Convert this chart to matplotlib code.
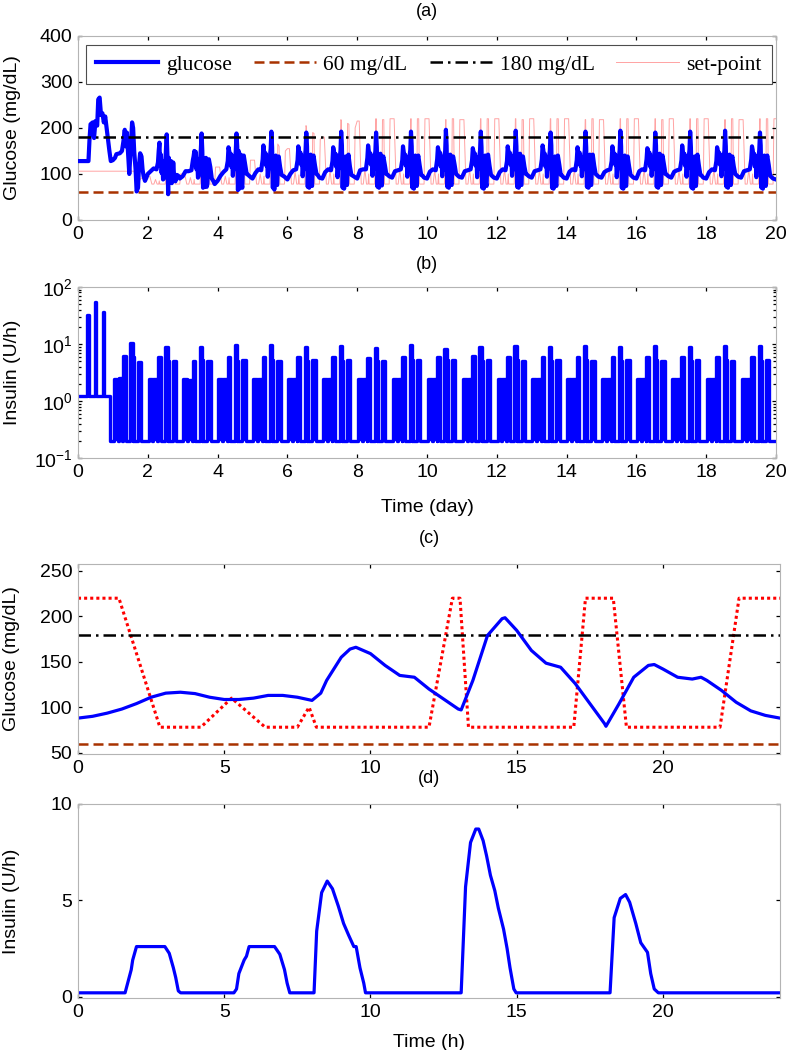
import matplotlib
matplotlib.use("Agg")
import matplotlib.pyplot as plt

plt.rcParams["font.family"] = ["Liberation Sans", "DejaVu Sans"]
plt.rcParams["mathtext.default"] = "regular"

# ── (a) glucose over 20 days ─────────────────────────────────────────────────
# first two days (transient), time in days
A0_T = [0.00, 0.30, 0.33, 0.36, 0.42, 0.46, 0.50, 0.55, 0.58, 0.62, 0.66, 0.70,
        0.74, 0.78, 0.82, 0.86, 0.90, 0.94, 1.00, 1.06, 1.10, 1.20, 1.26, 1.30,
        1.34, 1.37, 1.40, 1.44, 1.47, 1.50, 1.55, 1.58, 1.61, 1.65, 1.68, 1.72,
        1.75, 1.78, 1.82, 1.85, 1.88, 1.92, 1.96]
A0_G = [128, 128, 175, 208, 212, 178, 215, 205, 262, 266, 228, 232,
        212, 225, 200, 175, 150, 128, 130, 135, 143, 145, 150, 170,
        196, 160, 190, 140, 100, 140, 212, 200, 150, 110, 62, 70,
        120, 145, 138, 110, 95, 85, 92]

# days 2..19, samples at these hours of each day
A_HOURS = [0, 2, 4, 6, 7, 7.5, 8, 8.5, 9, 9.5, 10, 10.5, 11, 11.5, 12, 12.5, 13,
           13.5, 14, 14.5, 15, 15.5, 16, 16.5, 17, 17.5, 18, 19, 20, 21, 22]
A_DAYS = list(range(2, 20))
A_GLUCOSE = [
    [100, 106, 112, 110, 125, 150, 168, 118, 142, 102, 128, 88, 90, 110, 122, 152, 186, 140, 56, 135, 84, 120, 128, 80, 92, 125, 100, 84, 98, 96, 90],
    [95, 106, 106, 108, 130, 138, 150, 120, 148, 110, 132, 92, 96, 115, 130, 155, 188, 150, 70, 128, 72, 120, 135, 72, 78, 128, 132, 115, 90, 85, 78],
    [85, 96, 104, 110, 128, 158, 150, 130, 144, 115, 140, 96, 122, 110, 130, 150, 188, 160, 65, 150, 68, 128, 142, 78, 70, 132, 140, 120, 100, 98, 95],
    [90, 102, 110, 108, 132, 162, 148, 125, 145, 118, 136, 94, 115, 112, 138, 155, 192, 158, 70, 125, 66, 122, 140, 80, 76, 130, 138, 115, 98, 96, 94],
    [88, 100, 108, 110, 130, 160, 152, 128, 146, 120, 138, 95, 118, 110, 135, 152, 190, 160, 72, 122, 70, 125, 142, 78, 74, 134, 140, 118, 100, 97, 92],
    [90, 104, 110, 108, 128, 158, 150, 124, 144, 116, 140, 93, 120, 112, 136, 150, 192, 162, 70, 120, 68, 124, 138, 80, 76, 130, 142, 116, 98, 96, 94],
    [90, 108, 110, 110, 135, 162, 150, 125, 145, 120, 138, 96, 118, 110, 137, 150, 190, 158, 72, 125, 70, 126, 144, 78, 75, 132, 138, 120, 100, 98, 95],
    [92, 106, 108, 110, 130, 160, 148, 126, 142, 118, 136, 94, 120, 112, 138, 152, 192, 160, 70, 122, 68, 124, 140, 80, 74, 130, 140, 118, 98, 96, 92],
    [90, 105, 110, 108, 132, 158, 150, 128, 146, 116, 138, 95, 118, 110, 135, 150, 196, 162, 72, 124, 70, 125, 142, 78, 76, 132, 138, 120, 100, 97, 94],
    [92, 106, 108, 110, 130, 156, 148, 126, 144, 118, 136, 93, 120, 112, 136, 152, 192, 158, 70, 122, 68, 124, 140, 80, 74, 130, 142, 118, 98, 95, 92],
    [90, 104, 110, 108, 128, 160, 150, 124, 146, 120, 140, 96, 118, 110, 137, 150, 194, 160, 72, 120, 70, 126, 144, 78, 76, 132, 138, 116, 100, 98, 95],
    [92, 106, 108, 110, 132, 162, 152, 128, 144, 116, 138, 94, 120, 112, 135, 152, 190, 162, 70, 125, 68, 122, 138, 80, 74, 130, 140, 120, 98, 96, 92],
    [90, 105, 110, 108, 130, 158, 148, 125, 146, 118, 136, 95, 118, 110, 138, 150, 192, 158, 72, 122, 70, 125, 142, 78, 76, 132, 142, 118, 100, 97, 94],
    [92, 104, 108, 110, 128, 160, 150, 126, 144, 120, 140, 93, 120, 112, 136, 152, 194, 160, 70, 120, 68, 124, 140, 80, 74, 130, 138, 116, 98, 95, 92],
    [90, 106, 110, 108, 132, 156, 152, 124, 146, 116, 138, 96, 118, 110, 135, 150, 190, 162, 72, 124, 70, 126, 144, 78, 76, 132, 140, 120, 100, 98, 95],
    [92, 105, 108, 110, 130, 162, 148, 128, 144, 118, 136, 94, 120, 112, 137, 152, 192, 158, 70, 122, 68, 122, 138, 80, 74, 130, 142, 118, 98, 96, 92],
    [90, 104, 110, 108, 128, 158, 150, 125, 146, 120, 140, 95, 118, 110, 136, 150, 194, 160, 72, 120, 70, 125, 142, 78, 76, 132, 138, 116, 100, 97, 94],
    [92, 106, 108, 110, 132, 160, 152, 126, 144, 116, 138, 93, 120, 112, 135, 152, 190, 162, 70, 125, 68, 124, 140, 80, 74, 130, 140, 120, 96, 93, 90],
]
A_END = (20.0, 88)

# set-point in (a)
SP0_T = [0.0, 1.6, 1.72, 1.9]
SP0_V = [106, 106, 85, 95]
SP_HOURS = [0, 1.4, 2.8, 4.2, 5.3, 6.4, 7.5, 7.9, 8.2, 12.0, 12.8, 13.1, 13.4,
            17.0, 17.4, 18.3, 18.8, 22.0, 22.6]
SP_VALUES = [
    [95, 95, 78, 78, 88, 78, 78, 85, 78, 78, 135, 132, 78, 78, 110, 108, 78, 78, 100],
    [100, 100, 78, 78, 92, 78, 78, 88, 78, 78, 140, 138, 78, 78, 125, 122, 78, 78, 115],
    [115, 115, 78, 78, 95, 78, 78, 92, 78, 78, 152, 150, 78, 78, 140, 138, 78, 78, 130],
    [130, 130, 78, 78, 100, 78, 78, 95, 78, 78, 185, 182, 78, 78, 165, 160, 78, 78, 150],
    [155, 155, 78, 78, 105, 78, 78, 98, 78, 78, 205, 202, 78, 78, 190, 188, 78, 78, 175],
    [180, 180, 78, 78, 108, 78, 78, 100, 78, 78, 218, 216, 78, 78, 210, 208, 78, 78, 200],
    [215, 215, 78, 78, 110, 78, 78, 100, 78, 78, 220, 220, 78, 78, 218, 218, 78, 78, 220],
    [220, 220, 78, 78, 110, 78, 78, 100, 78, 78, 220, 220, 78, 78, 220, 220, 78, 78, 220],
    [220, 220, 78, 78, 108, 78, 78, 100, 78, 78, 218, 218, 78, 78, 220, 220, 78, 78, 218],
    [218, 218, 78, 78, 110, 78, 78, 100, 78, 78, 220, 220, 78, 78, 220, 220, 78, 78, 220],
    [220, 220, 78, 78, 110, 78, 78, 100, 78, 78, 220, 220, 78, 78, 218, 218, 78, 78, 220],
    [220, 220, 78, 78, 108, 78, 78, 100, 78, 78, 220, 220, 78, 78, 220, 220, 78, 78, 220],
    [220, 220, 78, 78, 110, 78, 78, 100, 78, 78, 218, 218, 78, 78, 220, 220, 78, 78, 218],
    [218, 218, 78, 78, 110, 78, 78, 100, 78, 78, 220, 220, 78, 78, 220, 220, 78, 78, 220],
    [220, 220, 78, 78, 110, 78, 78, 100, 78, 78, 220, 220, 78, 78, 218, 218, 78, 78, 220],
    [220, 220, 78, 78, 108, 78, 78, 100, 78, 78, 220, 220, 78, 78, 220, 220, 78, 78, 220],
    [220, 220, 78, 78, 110, 78, 78, 100, 78, 78, 218, 218, 78, 78, 220, 220, 78, 78, 218],
    [218, 218, 78, 78, 110, 78, 78, 100, 78, 78, 220, 220, 78, 78, 220, 220, 78, 78, 220],
]
SP_END = (20.0, 220)

LOW_LIMIT = 60
HIGH_LIMIT = 180

# ── (b) insulin over 20 days (log) ───────────────────────────────────────────
B0_T = [0.0, 0.27, 0.31, 0.49, 0.53, 0.71, 0.75, 0.92, 1.0]
B0_V = [1.2, 32, 1.2, 54, 1.2, 36, 1.2, 0.2, 0.2]
B_BASAL = 0.2
B_BLOCK_HOURS = [(0.5, 3.2), (3.9, 6.6), (6.9, 8.8), (12.0, 13.6), (13.6, 14.3), (17.0, 19.4)]
B_DAYS = list(range(1, 20))
B_LEVELS = [
    [2.4, 2.5, 6.2, 10.5, 6.0, 4.9],
    [2.4, 2.4, 6.0, 9.0, 5.0, 5.0],
    [2.4, 2.3, 5.0, 9.0, 5.2, 5.0],
    [2.4, 2.4, 6.0, 9.5, 5.0, 5.2],
    [2.4, 2.4, 6.0, 9.5, 5.2, 5.0],
    [2.4, 2.4, 5.8, 9.0, 5.0, 5.2],
    [2.4, 2.4, 5.8, 9.2, 5.0, 5.2],
    [2.4, 2.4, 5.6, 8.5, 5.0, 5.0],
    [2.4, 2.4, 6.0, 9.5, 5.2, 5.2],
    [2.4, 2.4, 5.9, 8.3, 5.2, 5.2],
    [2.4, 2.4, 6.2, 9.0, 5.0, 5.2],
    [2.4, 2.4, 5.8, 9.2, 5.2, 5.0],
    [2.4, 2.4, 6.0, 9.0, 5.0, 5.2],
    [2.4, 2.4, 5.8, 9.2, 5.2, 5.0],
    [2.4, 2.4, 6.0, 9.0, 5.0, 5.2],
    [2.4, 2.4, 5.8, 9.2, 5.2, 5.0],
    [2.4, 2.4, 6.0, 9.0, 5.0, 5.2],
    [2.4, 2.4, 5.9, 9.2, 5.2, 5.0],
    [2.4, 2.4, 6.0, 9.2, 5.0, 5.2],
]

# ── (c) one day glucose, time in hours ───────────────────────────────────────
C_T = [0, 0.5, 1, 1.5, 2, 2.5, 3, 3.5, 4, 4.5, 5, 5.5, 6, 6.5, 7, 7.5, 8, 8.3,
       8.5, 9, 9.3, 9.5, 10, 10.5, 11, 11.5, 12, 12.5, 13, 13.1, 13.5, 14, 14.5,
       14.6, 15, 15.5, 16, 16.5, 17, 17.5, 18, 18.05, 18.5, 19, 19.5, 19.7, 20,
       20.5, 21, 21.3, 21.5, 22, 22.5, 23, 23.5, 24]
C_G = [88, 90, 93.5, 98, 104, 111, 115.5, 116.5, 115, 111, 108.5, 108.5, 110,
       113, 113, 111, 107.5, 115.5, 129.5, 155, 164, 166, 159, 146, 135, 133,
       120, 109, 98, 97, 129.5, 179, 197.5, 198.5, 184.5, 162.5, 148.5, 144, 126,
       104, 82, 79, 104, 133, 146, 147, 142, 133, 131, 133, 129.5, 118.5, 105.5,
       96, 91, 88]
C_SP_T = [0, 1.4, 2.8, 4.2, 5.25, 6.4, 7.5, 7.9, 8.15, 12.0, 12.8, 13.06, 13.35,
          16.95, 17.35, 18.3, 18.75, 21.95, 22.6, 24]
C_SP = [220, 220, 78, 78, 110, 78, 78, 100, 78, 78, 220, 220, 78,
        78, 220, 220, 78, 78, 220, 220]

# ── (d) one day insulin ──────────────────────────────────────────────────────
D_T = [0, 1.61, 1.82, 1.87, 2.0, 2.97, 3.12, 3.26, 3.34, 3.43, 3.51,
       5.33, 5.42, 5.5, 5.68, 5.76, 5.85, 6.72, 6.9, 7.06, 7.15, 7.24,
       8.07, 8.16, 8.33, 8.52, 8.7, 8.9, 9.08, 9.25, 9.43, 9.51, 9.64, 9.77, 9.83,
       13.1, 13.25, 13.42, 13.6, 13.7, 13.85, 13.97, 14.1, 14.25, 14.37, 14.55,
       14.67, 14.77, 14.9, 14.98,
       18.19, 18.33, 18.54, 18.72, 18.86, 19.07, 19.24, 19.47, 19.58, 19.7, 19.84, 24]
D_U = [0.2, 0.2, 1.4, 1.9, 2.6, 2.6, 2.25, 1.5, 1.0, 0.3, 0.2,
       0.2, 0.4, 1.2, 1.9, 2.1, 2.6, 2.6, 2.2, 1.4, 0.7, 0.2,
       0.2, 3.4, 5.4, 6.0, 5.6, 4.7, 3.8, 3.2, 2.6, 2.6, 1.5, 0.7, 0.2,
       0.2, 5.7, 8.0, 8.7, 8.7, 8.1, 7.3, 6.3, 5.5, 4.6, 3.5,
       2.5, 1.5, 0.4, 0.2,
       0.2, 4.1, 5.1, 5.3, 4.9, 3.8, 2.8, 2.3, 1.2, 0.4, 0.2, 0.2]

BLUE = "#0000FF"
BROWN = "#A83200"
PINK = "#FFA3A3"
FRAME = "#B4B4B4"


def style_axes(ax):
    for s in ax.spines.values():
        s.set_color(FRAME)
        s.set_linewidth(0.8)
    ax.tick_params(which="both", direction="in", top=True, right=True,
                   length=3, width=0.9, color="k", labelsize=14, pad=4)
    ax.tick_params(which="minor", length=2)


fig = plt.figure(figsize=(7.87, 10.5), dpi=100)
ax_a = fig.add_axes([0.0991, 0.7905, 0.8869, 0.1753])
ax_b = fig.add_axes([0.0991, 0.5638, 0.8869, 0.1629])
ax_c = fig.add_axes([0.0991, 0.2819, 0.8920, 0.1810])
ax_d = fig.add_axes([0.0991, 0.0495, 0.8920, 0.1848])

# (a)
t_a = list(A0_T)
g_a = list(A0_G)
for d, row in zip(A_DAYS, A_GLUCOSE):
    t_a += [d + h / 24 for h in A_HOURS]
    g_a += row
t_a.append(A_END[0])
g_a.append(A_END[1])

t_sp = list(SP0_T)
v_sp = list(SP0_V)
for d, row in zip(A_DAYS, SP_VALUES):
    t_sp += [d + h / 24 for h in SP_HOURS]
    v_sp += row
t_sp.append(SP_END[0])
v_sp.append(SP_END[1])

sp_line, = ax_a.plot(t_sp, v_sp, color=PINK, lw=0.7, zorder=1, label="set-point")
g_line, = ax_a.plot(t_a, g_a, color=BLUE, lw=3.0, zorder=3, label="glucose")
lo_line = ax_a.axhline(LOW_LIMIT, color=BROWN, lw=1.8, ls=(0, (4, 2)), zorder=2,
                       label="60 mg/dL")
hi_line = ax_a.axhline(HIGH_LIMIT, color="k", lw=1.8, ls=(0, (5, 2, 1, 2)), zorder=4,
                       label="180 mg/dL")
ax_a.set_xlim(0, 20)
ax_a.set_ylim(0, 400)
ax_a.set_xticks(range(0, 21, 2))
ax_a.set_yticks([0, 100, 200, 300, 400])
ax_a.set_ylabel("Glucose (mg/dL)", fontsize=14)
ax_a.set_title("(a)", fontsize=13, pad=14)
leg = ax_a.legend(handles=[g_line, lo_line, hi_line, sp_line], ncol=4,
                  loc="upper left", bbox_to_anchor=(0.0115, 0.952), borderaxespad=0,
                  prop={"family": "Liberation Serif", "size": 15.5},
                  handlelength=2.9, handletextpad=0.35, columnspacing=1.02,
                  borderpad=0.45, fancybox=False, framealpha=1)
leg.get_frame().set_edgecolor("0.3")
leg.get_frame().set_linewidth(0.8)
style_axes(ax_a)

# (b)
t_b = []
v_b = []
for d, row in zip(B_DAYS, B_LEVELS):
    for (h0, h1), lev in zip(B_BLOCK_HOURS, row):
        t_b += [d + h0 / 24, d + h1 / 24]
        v_b += [lev, B_BASAL]
t_b.append(20.0)
v_b.append(B_BASAL)
ax_b.fill_between(t_b, B_BASAL, v_b, step="post", color=BLUE, lw=0)
ax_b.plot(B0_T + t_b, B0_V + v_b, color=BLUE, lw=2.4, drawstyle="steps-post")
ax_b.set_yscale("log")
ax_b.set_xlim(0, 20)
ax_b.set_ylim(0.1, 100)
ax_b.set_xticks(range(0, 21, 2))
ax_b.set_ylabel("Insulin (U/h)", fontsize=14)
ax_b.set_xlabel("Time (day)", fontsize=14, labelpad=13)
ax_b.set_title("(b)", fontsize=13, pad=13)
style_axes(ax_b)

# (c)
ax_c.plot(C_SP_T, C_SP, color="#FF0000", lw=2.2, ls=(0, (1, 1)))
ax_c.axhline(LOW_LIMIT, color=BROWN, lw=1.8, ls=(0, (4, 2)))
ax_c.axhline(HIGH_LIMIT, color="k", lw=1.8, ls=(0, (5, 2, 1, 2)))
ax_c.plot(C_T, C_G, color=BLUE, lw=2.3)
ax_c.set_xlim(0, 24)
ax_c.set_ylim(48.5, 257.7)
ax_c.set_xticks([0, 5, 10, 15, 20])
ax_c.set_yticks([50, 100, 150, 200, 250])
ax_c.set_ylabel("Glucose (mg/dL)", fontsize=14)
ax_c.set_title("(c)", fontsize=13, pad=15)
style_axes(ax_c)

# (d)
ax_d.plot(D_T, D_U, color=BLUE, lw=2.3)
ax_d.set_xlim(0, 24)
ax_d.set_ylim(-0.07, 10)
ax_d.set_xticks([0, 5, 10, 15, 20])
ax_d.set_yticks([0, 5, 10])
ax_d.set_ylabel("Insulin (U/h)", fontsize=14)
ax_d.set_xlabel("Time (h)", fontsize=14, labelpad=10)
ax_d.set_title("(d)", fontsize=13, pad=15)
style_axes(ax_d)

for ax in (ax_a, ax_b, ax_c, ax_d):
    ax.yaxis.set_label_coords(-0.082, 0.5)

fig.savefig("out.png", dpi=100)
